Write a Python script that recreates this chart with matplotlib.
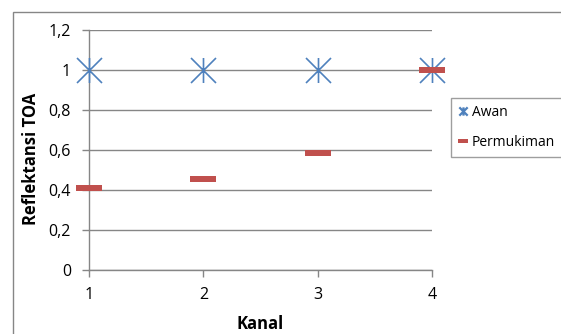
import matplotlib
matplotlib.use("Agg")
import matplotlib.pyplot as plt
from matplotlib.path import Path
from matplotlib.lines import Line2D
from matplotlib.patches import Rectangle

kanal = [1, 2, 3, 4]
awan = [1.0, 1.0, 1.0, 1.0]
permukiman = [0.41, 0.455, 0.585, 1.0]
yticks = [0, 0.2, 0.4, 0.6, 0.8, 1.0, 1.2]
ytick_labels = ["0", "0,2", "0,4", "0,6", "0,8", "1", "1,2"]

plt.rcParams['font.family'] = ['Open Sans', 'DejaVu Sans']

W, H = 561, 334
fig = plt.figure(figsize=(W / 100, H / 100), dpi=100)

grey = "#868686"
blue = "#4F81BD"
red = "#C0504D"

# outer chart border (extends past right/bottom edge)
fig.patches.append(Rectangle((13 / W, -0.1), 1.2, 1 - 12 / H + 0.1,
                             transform=fig.transFigure, fill=False,
                             edgecolor=grey, linewidth=1.0))

ax = fig.add_axes([89 / W, 1 - 270 / H, (432 - 89) / W, 240 / H])

star = Path([(0, -1), (0, 1), (-1, -1), (1, 1), (-1, 1), (1, -1)],
            [Path.MOVETO, Path.LINETO, Path.MOVETO, Path.LINETO, Path.MOVETO, Path.LINETO])
dash = Path([(-1, -0.25), (1, -0.25), (1, 0.25), (-1, 0.25), (-1, -0.25)],
            [Path.MOVETO, Path.LINETO, Path.LINETO, Path.LINETO, Path.CLOSEPOLY])
dash_small = Path([(-1, -0.3), (1, -0.3), (1, 0.3), (-1, 0.3), (-1, -0.3)],
                  [Path.MOVETO, Path.LINETO, Path.LINETO, Path.LINETO, Path.CLOSEPOLY])

ax.plot(kanal, awan, linestyle='none', marker=star, markersize=18,
        markeredgecolor=blue, markerfacecolor='none', markeredgewidth=1.2,
        clip_on=False, zorder=3)
ax.plot(kanal, permukiman, linestyle='none', marker=dash, markersize=18.5,
        markeredgecolor=red, markerfacecolor=red, markeredgewidth=0,
        clip_on=False, zorder=4)

ax.set_xlim(1, 4)
ax.set_ylim(0, 1.2)
ax.set_xticks(kanal)
ax.set_xticklabels([str(k) for k in kanal])
ax.set_yticks(yticks)
ax.set_yticklabels(ytick_labels)
ax.yaxis.grid(True, color=grey, linewidth=1.0)
ax.set_axisbelow(True)
for s in ['top', 'right']:
    ax.spines[s].set_visible(False)
for s in ['left', 'bottom']:
    ax.spines[s].set_color(grey)
    ax.spines[s].set_linewidth(1.0)
ax.tick_params(axis='both', colors=grey, labelcolor='black', labelsize=11.5,
               length=5, width=1.0, direction='out')
ax.tick_params(axis='x', pad=7.5)
ax.tick_params(axis='y', pad=8)

ax.set_xlabel("Kanal", fontsize=12, fontweight='bold', va='center')
ax.xaxis.set_label_coords(0.5, (270 - 324) / 240)
ax.set_ylabel("Reflektansi TOA", fontsize=12, fontweight='bold', va='center')
ax.yaxis.set_label_coords((31 - 89) / 343, (270 - 159) / 240)

handles = [
    Line2D([], [], linestyle='none', marker=star, markersize=6,
           markeredgecolor=blue, markerfacecolor='none', markeredgewidth=1.6),
    Line2D([], [], linestyle='none', marker=dash_small, markersize=7.5,
           markeredgecolor=red, markerfacecolor=red, markeredgewidth=0),
]
leg = fig.legend(handles, ["Awan", "Permukiman"], loc='upper left',
                 bbox_to_anchor=(451 / W, 1 - 98 / H), fontsize=10,
                 frameon=True, fancybox=False, edgecolor=grey,
                 handlelength=0.7, handletextpad=0.3, labelspacing=1.1,
                 borderpad=0.5, borderaxespad=0)
leg.get_frame().set_linewidth(1.0)

fig.savefig("out.png", dpi=100)
